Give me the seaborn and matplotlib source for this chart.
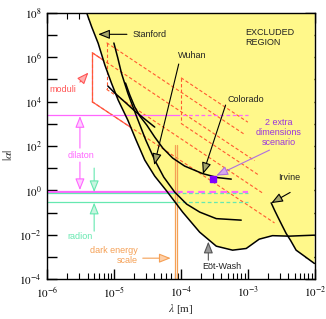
import matplotlib
matplotlib.use('Agg')
import numpy as np
import matplotlib.pyplot as plt
import seaborn as sns

# values, stored as log10(lambda [m]) and log10(|alpha|)

# excluded region boundary (Stanford + Eot-Wash), top to bottom right
excl_loglam = [-5.412, -5.337, -5.239, -5.139, -5.039, -4.940, -4.796, -4.672,
               -4.542, -4.393, -4.213, -3.975, -3.721, -3.472, -3.228, -3.024,
               -2.830, -2.631, -2.382, -2.198, -2.004]
excl_logalpha = [8.000, 7.369, 6.622, 5.644, 4.820, 4.068, 3.167, 2.266,
                 1.365, 0.644, -0.032, -0.977, -1.878, -2.509, -2.689, -2.613,
                 -2.194, -2.036, -2.059, -2.036, -2.014]

# Irvine curve
irv_loglam = [-2.651, -2.601, -2.552, -2.490, -2.427, -2.363, -2.278, -2.154, -2.004]
irv_logalpha = [-0.559, -0.887, -1.189, -1.563, -1.937, -2.239, -2.689, -2.959, -3.288]

# other limit curves inside the excluded region
curve_b_loglam = [-5.004, -4.945, -4.890, -4.796, -4.661, -4.527, -4.393, -4.258,
                  -4.094, -3.915, -3.719, -3.472, -3.099]
curve_b_logalpha = [6.635, 5.959, 5.270, 4.383, 3.302, 2.266, 1.365, 0.599,
                    -0.077, -0.617, -0.977, -1.270, -1.338]
colo_loglam = [-4.830, -4.766, -4.691, -4.616, -4.512, -4.393, -4.272, -4.124,
               -3.945, -3.676, -3.452, -3.248]
colo_logalpha = [4.833, 4.293, 3.752, 3.347, 2.941, 2.401, 1.905, 1.455,
                 1.095, 0.757, 0.577, 0.509]
short_loglam = [-5.094, -4.990, -4.839, -4.690, -4.542, -4.393]
short_logalpha = [4.698, 4.383, 3.977, 3.572, 3.212, 2.851]

# moduli bands: left edge, top, bottom, right ends of top / bottom lines
mod_left = [-5.328, -5.113, -4.000]
mod_top = [6.198, 6.649, 5.072]
mod_bot = [3.991, 4.550, 3.018]
mod_top_end = [-2.900, -3.049, -3.000]
mod_bot_end = [-2.601, -2.776, -2.825]
mod_slope = -2.0

# dilaton / radion levels, dark energy scale
dilaton_levels = [3.39, -0.06]
radion_levels = [-0.108, -0.514]
dark_energy_lam = [-4.094, -4.060]
dark_energy_top = 2.04
band_split = -4.08
band_end = -3.004

scenario_point = (-3.522, 0.509)

yellow = '#fff88a'
red = '#ff5555'
red_dash = '#ff5a30'
magenta = '#ff66ff'
green = '#66e8b0'
orange = '#f5a055'
purple = '#9a33dd'


def p(v):
    return 10.0 ** np.asarray(v)


sns.set_theme(style='ticks')
plt.rcParams['font.family'] = ['Liberation Sans', 'DejaVu Sans']
plt.rcParams['mathtext.fontset'] = 'stix'

fig = plt.figure(figsize=(3.26, 3.19), dpi=100)
ax = fig.add_axes([0.1451, 0.1245, 0.8202, 0.8357])
ax.set_xscale('log')
ax.set_yscale('log')
ax.set_xlim(1e-6, 1e-2)
ax.set_ylim(1e-4, 1e8)

# excluded region: boundary down to the Irvine crossing, then along Irvine
fill_x = excl_loglam[:19] + irv_loglam[5:] + [-2.0]
fill_y = excl_logalpha[:19] + irv_logalpha[5:] + [8.0]
ax.fill(p(fill_x), p(fill_y), color=yellow, lw=0, zorder=2)

# moduli bands
for i in range(3):
    x0 = mod_left[i]
    tx = [x0, mod_top_end[i]]
    ty = [mod_top[i], mod_top[i] + mod_slope * (mod_top_end[i] - x0)]
    bx = [x0, mod_bot_end[i]]
    by = [mod_bot[i], mod_bot[i] + mod_slope * (mod_bot_end[i] - x0)]
    vx = [x0, x0]
    vy = [mod_top[i], mod_bot[i]]
    for xx, yy in [(tx, ty), (bx, by), (vx, vy)]:
        if i == 0:
            ax.plot(p(xx), p(yy), color=red, lw=0.9, zorder=1)
        ax.plot(p(xx), p(yy), color=red_dash, lw=0.8, ls=(0, (3, 2)), zorder=3)

# dilaton and radion lines
for lev, col, lw in [(dilaton_levels[0], magenta, 0.9), (dilaton_levels[1], magenta, 1.6),
                     (radion_levels[0], green, 0.9), (radion_levels[1], green, 0.9)]:
    ax.plot(p([-6, band_split]), p([lev, lev]), color=col, lw=lw, zorder=3)
    ax.plot(p([band_split, band_end]), p([lev, lev]), color=col, lw=lw,
            ls=(0, (3, 2)), zorder=3)

# dark energy scale
for lam in dark_energy_lam:
    ax.plot(p([lam, lam]), p([dark_energy_top, -4]), color=orange, lw=0.9, zorder=3)

# black limit curves
for xs, ys in [(excl_loglam, excl_logalpha), (irv_loglam, irv_logalpha),
               (curve_b_loglam, curve_b_logalpha), (colo_loglam, colo_logalpha),
               (short_loglam, short_logalpha)]:
    sns.lineplot(x=p(xs), y=p(ys), sort=False, estimator=None, color='black',
                 lw=1.1, ax=ax, zorder=4)

ax.plot(p(scenario_point[0]), p(scenario_point[1]), marker='s', ms=4.5,
        color='#8000ff', zorder=6)


def arrow(tail, tip, ec, fc):
    ax.annotate('', xy=(p(tip[0]), p(tip[1])), xytext=(p(tail[0]), p(tail[1])),
                arrowprops=dict(arrowstyle='-|>,head_length=0.7,head_width=0.28',
                                ec=ec, fc=fc, lw=0.8, shrinkA=0, shrinkB=0,
                                mutation_scale=10), zorder=6)


def label(pos, s, col, **kw):
    ax.text(p(pos[0]), p(pos[1]), s, color=col, fontsize=6.5, zorder=7, **kw)


olive = '#a6a66a'
arrow((-4.809, 7.027), (-5.239, 7.027), 'black', olive)
label((-4.720, 7.018), 'Stanford', '#222222', ha='left', va='center')
arrow((-4.034, 5.689), (-4.400, 1.140), 'black', olive)
label((-3.825, 6.095), 'Wuhan', '#222222', ha='center', va='center')
arrow((-3.333, 3.842), (-3.672, 0.734), 'black', olive)
label((-3.034, 4.090), 'Colorado', '#222222', ha='center', va='center')
arrow((-2.367, -0.090), (-2.651, -0.572), 'black', olive)
label((-2.378, 0.599), 'Irvine', '#222222', ha='center', va='center')
arrow((-3.591, -3.140), (-3.591, -2.306), '#555555', '#999999')
label((-3.393, -3.410), 'Eöt-Wash', '#222222', ha='center', va='center')
label((-3.034, 6.883), 'EXCLUDED\nREGION', '#222222', ha='left', va='center',
      linespacing=1.15)

arrow((-2.676, 1.815), (-3.472, 0.667), '#b070e0', '#d8a8f0')
label((-2.540, 2.626), '2 extra\ndimensions\nscenario', purple, ha='center',
      va='center', linespacing=1.15)

arrow((-5.512, 4.878), (-5.385, 5.306), red, '#ffb0b0')
label((-5.766, 4.541), 'moduli', red, ha='center', va='center')

arrow((-5.512, 1.905), (-5.512, 3.347), magenta, '#ffd0ff')
arrow((-5.512, 1.275), (-5.512, 0.0135), magenta, '#ffd0ff')
label((-5.497, 1.590), 'dilaton', magenta, ha='center', va='center')

arrow((-5.299, 1.005), (-5.299, -0.077), green, '#c8f5e0')
arrow((-5.299, -1.833), (-5.299, -0.550), green, '#c8f5e0')
label((-5.512, -2.059), 'radion', green, ha='center', va='center')

arrow((-4.572, -3.050), (-4.154, -3.050), orange, '#ffd0a8')
label((-4.646, -2.937), 'dark energy\nscale', orange, ha='right', va='center',
      multialignment='right', linespacing=1.1)

# ticks
ax.set_xticks(p([-6, -5, -4, -3, -2]))
ax.set_xticklabels([r'$10^{-6}$', r'$10^{-5}$', r'$10^{-4}$', r'$10^{-3}$', r'$10^{-2}$'])
ax.xaxis.set_minor_locator(matplotlib.ticker.LogLocator(base=10, subs=np.arange(2, 10)))
ax.xaxis.set_minor_formatter(matplotlib.ticker.NullFormatter())
yt = list(range(-4, 9))
ax.set_yticks(p(yt))
ax.set_yticklabels([r'$10^{%d}$' % v if v % 2 == 0 else '' for v in yt])
ax.yaxis.set_minor_locator(matplotlib.ticker.NullLocator())
ax.tick_params(axis='both', which='major', direction='in', length=7.5, width=1,
               top=True, right=True, labelsize=8, color='black', labelcolor='black')
ax.tick_params(axis='x', which='minor', direction='in', length=4, width=0.8,
               top=True, bottom=True, color='black')
ax.tick_params(axis='x', which='major', pad=4)
ax.tick_params(axis='y', which='major', pad=4)
for s in ax.spines.values():
    s.set_visible(True)
    s.set_color('black')
    s.set_linewidth(1.0)
    s.set_zorder(8)

fig.text(181 / 326, 1 - 309 / 319, r'$\lambda$ [m]', ha='center', va='center',
         fontsize=8, family='Liberation Serif')
fig.text(9 / 326, 1 - 155 / 319, r'$|\alpha|$', ha='center', va='center',
         rotation=90, fontsize=8.5)

fig.savefig('out.png', dpi=100, facecolor='white')
